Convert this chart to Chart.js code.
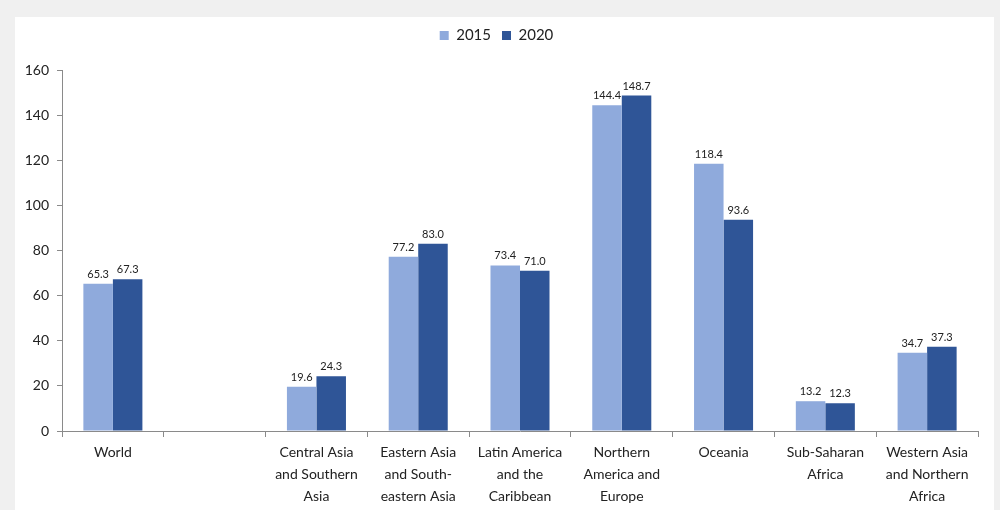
<!DOCTYPE html>
<html>
<head>
<meta charset="utf-8">
<script src="https://cdn.jsdelivr.net/npm/chart.js@4"></script>
<style>
  html, body { margin: 0; padding: 0; background: #f0f0f0; overflow: hidden; }
  #panel { position: absolute; left: 15px; top: 17px; width: 979px; height: 493px; background: #ffffff; }
  #chart { display: block; }
</style>
</head>
<body>
<div id="panel"><canvas id="chart" width="979" height="493"></canvas></div>
<script>
const regions = [
    ['World'],
    [''],
    ['Central Asia', 'and Southern', 'Asia'],
    ['Eastern Asia', 'and South-', 'eastern Asia'],
    ['Latin America', 'and the', 'Caribbean'],
    ['Northern', 'America and', 'Europe'],
    ['Oceania'],
    ['Sub-Saharan', 'Africa'],
    ['Western Asia', 'and Northern', 'Africa']
];
const values2015 = [65.3, null, 19.6, 77.2, 73.4, 144.4, 118.4, 13.2, 34.7];
const values2020 = [67.3, null, 24.3, 83.0, 71.0, 148.7, 93.6, 12.3, 37.3];
const yTicks = [0, 20, 40, 60, 80, 100, 120, 140, 160];

const FONT = 'Lato, "Open Sans", sans-serif';

// value labels above each bar
const barValues = {
    id: 'barValues',
    afterDatasetsDraw(chart) {
        const ctx = chart.ctx;
        ctx.save();
        ctx.font = '11px ' + FONT;
        ctx.fillStyle = '#222222';
        ctx.textAlign = 'center';
        ctx.textBaseline = 'bottom';
        chart.data.datasets.forEach(function (ds, i) {
            chart.getDatasetMeta(i).data.forEach(function (bar, j) {
                const v = ds.data[j];
                if (v === null) return;
                ctx.fillText(v.toFixed(1), bar.x, bar.y - 4);
            });
        });
        ctx.restore();
    }
};

// extra room between legend and plot
const legendGap = {
    id: 'legendGap',
    beforeInit(chart) {
        const fit = chart.legend.fit;
        chart.legend.fit = function () {
            fit.call(this);
            this.height += 17;
        };
    }
};

new Chart(document.getElementById('chart'), {
    type: 'bar',
    data: {
        labels: regions,
        datasets: [
            { label: '2015', data: values2015, backgroundColor: '#8faadc' },
            { label: '2020', data: values2020, backgroundColor: '#2f5597' }
        ]
    },
    options: {
        responsive: false,
        animation: false,
        layout: { padding: { left: 0, right: 16, top: 0, bottom: 0 } },
        datasets: { bar: { barPercentage: 1, categoryPercentage: 0.58 } },
        plugins: {
            legend: {
                position: 'top',
                labels: {
                    boxWidth: 9, boxHeight: 9, padding: 11,
                    color: '#222222',
                    font: { family: FONT, size: 15 }
                }
            },
            tooltip: { enabled: false }
        },
        scales: {
            x: {
                grid: { drawOnChartArea: false, drawTicks: true, tickLength: 6, color: '#8a8a8a', offset: true },
                border: { color: '#8a8a8a' },
                ticks: {
                    color: '#222222', maxRotation: 0, autoSkip: false, padding: 5,
                    font: { family: FONT, size: 14, lineHeight: 1.55 }
                },
                afterFit(scale) { scale.height = 79; }
            },
            y: {
                min: 0, max: 160,
                afterBuildTicks(scale) { scale.ticks = yTicks.map(v => ({ value: v })); },
                grid: { drawOnChartArea: false, drawTicks: true, tickLength: 5, color: '#8a8a8a' },
                border: { color: '#8a8a8a' },
                ticks: {
                    color: '#222222', padding: 8,
                    font: { family: FONT, size: 14 }
                },
                afterFit(scale) { scale.width = 47; }
            }
        }
    },
    plugins: [barValues, legendGap]
});
</script>
</body>
</html>
